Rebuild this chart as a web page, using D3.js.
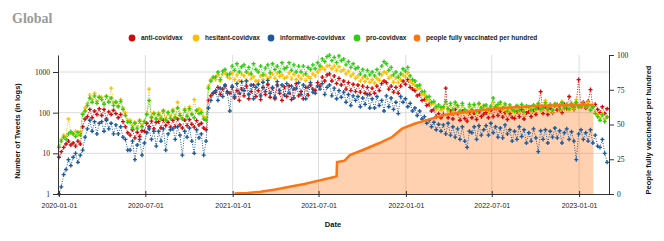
<html>
<script src='https://d3js.org/d3.v7.min.js'></script>

<head>
    <style>
        body { margin: 0; background: #fff; }
        svg { display: block; }
    </style>
</head>

<body>

<svg width=664 height=241></svg>

<script>
// tweets per day, one value every 5 days starting 2020-01-01
const startDate = new Date(2020, 0, 1);
const stepDays = 5;

const anti = [
    8, 11, 14, 17, 20, 16,
    18, 15, 20, 17, 45, 70,
    80, 120, 75, 110, 90, 125,
    85, 120, 70, 105, 90, 115,
    95, 75, 90, 60, 45, 32,
    28, 38, 24, 33, 26, 36,
    35, 55, 45, 62, 40, 58,
    60, 42, 65, 48, 58, 44,
    65, 45, 70, 50, 42, 66,
    48, 68, 52, 44, 64, 50,
    55, 42, 38, 200, 260, 300,
    320, 420, 280, 380, 450, 330,
    300, 420, 230, 350, 200, 380,
    260, 450, 220, 330, 480, 250,
    350, 210, 420, 280, 500, 240,
    400, 220, 480, 300, 200, 430,
    250, 460, 210, 380, 520, 260,
    330, 220, 420, 270, 480, 380,
    350, 550, 450, 750, 600, 850,
    900, 600, 800, 520, 700, 480,
    600, 380, 550, 350, 500, 330,
    480, 320, 450, 300, 420, 280,
    400, 300, 450, 350, 520, 600,
    550, 380, 450, 320, 420, 300,
    450, 600, 500, 650, 420, 380,
    350, 260, 280, 200, 210, 150,
    160, 110, 120, 80, 95, 75,
    90, 400, 75, 110, 70, 120,
    95, 65, 110, 72, 62, 100,
    75, 98, 68, 105, 80, 92,
    100, 75, 115, 80, 140, 85,
    110, 78, 100, 68, 95, 76,
    72, 105, 80, 120, 70, 98,
    105, 80, 115, 90, 130, 330,
    95, 140, 90, 130, 100, 150,
    115, 150, 100, 160, 125, 250,
    150, 120, 175, 650, 140, 180,
    130, 190, 370, 140, 160, 120,
    100, 140, 95, 125
];

const hesitant = [
    15, 22, 28, 26, 70, 32,
    30, 35, 28, 33, 95, 130,
    170, 270, 210, 300, 190, 250,
    240, 170, 260, 190, 400, 180,
    190, 150, 210, 130, 100, 65,
    65, 48, 58, 44, 66, 50,
    62, 95, 380, 80, 100, 72,
    100, 78, 115, 70, 105, 82,
    120, 80, 180, 95, 75, 125,
    85, 140, 95, 210, 110, 125,
    110, 80, 72, 450, 650, 700,
    650, 850, 600, 900, 950, 750,
    700, 950, 650, 850, 600, 900,
    800, 620, 900, 680, 780, 600,
    600, 800, 650, 850, 700, 750,
    900, 700, 950, 780, 850, 700,
    750, 950, 680, 880, 650, 800,
    680, 850, 620, 780, 700, 900,
    800, 1000, 1150, 1300, 1150, 1400,
    1450, 1200, 1400, 1100, 1350, 1050,
    1150, 900, 1050, 800, 900, 700,
    800, 600, 720, 580, 700, 560,
    650, 540, 700, 620, 850, 1000,
    950, 700, 800, 560, 720, 550,
    650, 850, 750, 950, 600, 520,
    480, 380, 400, 280, 280, 200,
    210, 160, 170, 120, 135, 115,
    125, 170, 110, 150, 105, 160,
    135, 100, 150, 105, 95, 140,
    110, 150, 100, 160, 120, 135,
    140, 110, 130, 180, 120, 145,
    160, 115, 150, 100, 140, 110,
    100, 135, 105, 145, 95, 130,
    130, 105, 140, 115, 160, 110,
    120, 200, 110, 150, 105, 160,
    150, 110, 190, 120, 155, 115,
    160, 125, 210, 130, 145, 170,
    140, 180, 120, 150, 105, 90,
    75, 95, 68, 80
];

const informative = [
    1, 1.5, 3, 4, 7, 5,
    8, 10, 6, 9, 12, 25,
    40, 65, 35, 60, 30, 55,
    60, 35, 65, 40, 55, 30,
    50, 30, 45, 25, 22, 12,
    12, 20, 7, 16, 22, 9,
    18, 32, 40, 22, 35, 15,
    35, 20, 40, 12, 30, 38,
    40, 22, 45, 28, 9, 35,
    25, 42, 20, 10, 38, 24,
    30, 9, 20, 130, 200, 300,
    350, 200, 400, 250, 480, 300,
    110, 450, 250, 520, 300, 580,
    350, 600, 280, 480, 220, 420,
    500, 260, 560, 330, 620, 300,
    420, 240, 580, 350, 480, 270,
    520, 300, 450, 230, 400, 550,
    280, 480, 220, 420, 550, 320,
    300, 450, 380, 520, 280, 420,
    480, 260, 400, 220, 350, 240,
    320, 180, 280, 150, 260, 200,
    250, 140, 230, 160, 280, 130,
    220, 130, 250, 150, 200, 110,
    260, 140, 230, 120, 180, 95,
    250, 180, 220, 140, 170, 110,
    130, 85, 110, 70, 80, 55,
    65, 45, 58, 38, 52, 35,
    50, 30, 55, 28, 45, 25,
    40, 22, 45, 20, 14, 35,
    32, 45, 22, 48, 28, 38,
    48, 28, 55, 32, 45, 25,
    42, 24, 50, 30, 38, 20,
    35, 22, 45, 26, 38, 18,
    32, 20, 40, 24, 11, 36,
    22, 38, 18, 35, 25, 42,
    24, 36, 18, 32, 40, 22,
    34, 20, 7, 30, 38, 22,
    32, 20, 38, 18, 28, 15,
    14, 22, 10, 6
];

const pro = [
    14, 20, 25, 22, 30, 34,
    30, 26, 33, 28, 90, 110,
    150, 230, 180, 260, 170, 240,
    210, 160, 250, 180, 230, 150,
    180, 140, 190, 120, 85, 58,
    58, 42, 55, 40, 62, 45,
    60, 90, 200, 75, 95, 70,
    90, 70, 110, 65, 100, 72,
    110, 75, 130, 85, 70, 115,
    80, 125, 90, 75, 115, 95,
    100, 70, 65, 400, 600, 750,
    750, 1000, 650, 1050, 1150, 850,
    900, 1400, 1100, 1600, 1000, 1350,
    1500, 1000, 1300, 900, 1600, 1150,
    1000, 1400, 850, 1250, 1500, 950,
    1600, 1150, 1400, 1000, 1700, 1200,
    1300, 1700, 1100, 1500, 1000, 1400,
    1000, 1400, 900, 1300, 1150, 1500,
    1200, 1700, 1400, 2100, 1800, 2400,
    2600, 1900, 2300, 1700, 2500, 1900,
    2100, 1500, 1800, 1300, 1600, 1200,
    1300, 900, 1150, 800, 1100, 850,
    1000, 800, 1150, 900, 1400, 1800,
    1600, 1100, 1300, 850, 1000, 750,
    900, 1200, 1050, 1300, 800, 650,
    600, 450, 480, 330, 330, 240,
    250, 180, 190, 140, 155, 135,
    140, 190, 125, 170, 120, 180,
    150, 110, 170, 120, 105, 160,
    120, 160, 110, 170, 130, 150,
    155, 120, 145, 230, 135, 160,
    180, 130, 165, 110, 155, 120,
    110, 150, 115, 160, 105, 145,
    140, 115, 155, 125, 170, 120,
    130, 175, 120, 160, 115, 165,
    160, 120, 175, 130, 160, 125,
    170, 135, 180, 140, 150, 165,
    145, 150, 115, 140, 95, 80,
    65, 88, 60, 78
];

// people fully vaccinated per hundred
const vaxDates = ["2021-01-05", "2021-02-01", "2021-03-01", "2021-04-01", "2021-05-01", "2021-06-01",
    "2021-07-01", "2021-08-01", "2021-08-08", "2021-08-09", "2021-08-25", "2021-09-05",
    "2021-10-01", "2021-11-05", "2021-12-03", "2021-12-24", "2022-01-19", "2022-02-12",
    "2022-03-25", "2022-05-21", "2022-07-31", "2022-10-10", "2022-12-21", "2023-01-31"];
const vaxValues = [0.3, 0.8, 1.7, 3.3, 5.2, 7.2,
    9.6, 12, 12.8, 23, 24, 28,
    31.5, 36.5, 41, 47, 50.5, 53,
    57, 59.7, 62, 63.5, 64, 64.2];

const seriesNames = ["anti-covidvax", "hesitant-covidvax", "informative-covidvax", "pro-covidvax"];
const seriesColors = ["#d20a0a", "#ffbf00", "#1c5a9b", "#33cc14"];
const vaxName = "people fully vaccinated per hundred";
const vaxColor = "#ff7410";

const leftTicks = [1, 10, 100, 1000];
const rightTicks = [0, 25, 50, 75, 100];
const dateTicks = ["2020-01-01", "2020-07-01", "2021-01-01", "2021-07-01", "2022-01-01", "2022-07-01", "2023-01-01"];

const marginLeft = 58;
const marginRight = 55;
const marginTop = 55;
const marginBottom = 47;
const w = 664;
const h = 241;

var parse = d3.timeParse("%Y-%m-%d");
var svg = d3.select("svg");

var xs = d3.scaleTime()
    .domain([new Date(2019, 11, 30), new Date(2023, 2, 5)])
    .range([marginLeft, w - marginRight]);

var ys = d3.scaleLog()
    .domain([1, 2620])
    .range([h - marginBottom, marginTop]);

var ys2 = d3.scaleLinear()
    .domain([0, 100])
    .range([h - marginBottom, marginTop]);

// title
svg.append("text")
    .attr("x", 12)
    .attr("y", 22.5)
    .style("font-family", "'Liberation Serif', serif")
    .style("font-weight", "bold")
    .style("font-size", "14px")
    .style("fill", "#9a9a9a")
    .text("Global");

// grid
svg.append("g")
    .selectAll("line")
    .data(leftTicks.slice(1))
    .enter()
    .append("line")
    .attr("x1", marginLeft).attr("x2", w - marginRight)
    .attr("y1", function(d) { return ys(d); })
    .attr("y2", function(d) { return ys(d); })
    .style("stroke", "#dcdcdc");

svg.append("g")
    .selectAll("line")
    .data(dateTicks.slice(1))
    .enter()
    .append("line")
    .attr("x1", function(d) { return xs(parse(d)); })
    .attr("x2", function(d) { return xs(parse(d)); })
    .attr("y1", marginTop).attr("y2", h - marginBottom)
    .style("stroke", "#dcdcdc");

// vaccination area (under the tweets)
var vax = vaxDates.map(function(d, i) { return {date: parse(d), value: vaxValues[i]}; });

svg.append("path")
    .datum(vax)
    .attr("d", d3.area()
        .x(function(d) { return xs(d.date); })
        .y0(ys2(0))
        .y1(function(d) { return ys2(d.value); }))
    .style("fill", vaxColor)
    .style("opacity", 0.33);

// tweets: dotted line + small crosses
var allSeries = [anti, hesitant, informative, pro];
var cross = d3.symbol().type(d3.symbolCross).size(9);
var dateOf = function(i) { return d3.timeDay.offset(startDate, i * stepDays); };

var tweetLine = d3.line()
    .x(function(d, i) { return xs(dateOf(i)); })
    .y(function(d) { return ys(d); });

allSeries.forEach(function(values, s) {
    var g = svg.append("g");

    g.append("path")
        .datum(values)
        .attr("d", tweetLine)
        .style("fill", "none")
        .style("stroke", seriesColors[s])
        .style("stroke-width", 1)
        .style("stroke-dasharray", "1,1.5");

    g.selectAll(".pt")
        .data(values)
        .enter()
        .append("path")
        .attr("d", cross)
        .attr("transform", function(d, i) {
            return "translate(" + xs(dateOf(i)) + "," + ys(d) + ")";
        })
        .style("fill", seriesColors[s]);
});

svg.append("path")
    .datum(vax)
    .attr("d", d3.line()
        .x(function(d) { return xs(d.date); })
        .y(function(d) { return ys2(d.value); }))
    .style("fill", "none")
    .style("stroke", vaxColor)
    .style("stroke-width", 2.5);

// axes
var xAxis = svg.append("g")
    .attr("transform", "translate(0," + (h - marginBottom) + ")")
    .call(d3.axisBottom(xs)
        .tickValues(dateTicks.map(parse))
        .tickFormat(d3.timeFormat("%Y-%m-%d"))
        .tickSize(3)
        .tickSizeOuter(0));
xAxis.selectAll(".tick line").attr("y1", -3);
xAxis.selectAll("text")
    .attr("dy", "1.1em")
    .style("font-family", "'Liberation Sans', Arial, sans-serif")
    .style("font-size", "7px")
    .style("fill", "#222");

var yAxis = svg.append("g")
    .attr("transform", "translate(" + marginLeft + ",0)")
    .call(d3.axisLeft(ys)
        .tickValues(leftTicks)
        .tickFormat(d3.format("d"))
        .tickSize(5)
        .tickPadding(3)
        .tickSizeOuter(0));
yAxis.selectAll("text")
    .style("font-family", "'Liberation Serif', serif")
    .style("font-size", "7.5px")
    .style("fill", "#222");

var yAxis2 = svg.append("g")
    .attr("transform", "translate(" + (w - marginRight) + ",0)")
    .call(d3.axisRight(ys2)
        .tickValues(rightTicks)
        .tickSize(5)
        .tickPadding(3)
        .tickSizeOuter(0));
yAxis2.selectAll("text")
    .style("font-family", "'Liberation Serif', serif")
    .style("font-size", "7.5px")
    .style("fill", "#222");

svg.selectAll(".domain, .tick line").style("stroke", "#333");

// axis titles
svg.append("text")
    .attr("transform", "translate(20,131) rotate(-90)")
    .attr("text-anchor", "middle")
    .style("font-family", "'Liberation Sans', Arial, sans-serif")
    .style("font-weight", "bold")
    .style("font-size", "7.5px")
    .style("fill", "#111")
    .text("Number of Tweets (in logs)");

svg.append("text")
    .attr("transform", "translate(651,130) rotate(-90)")
    .attr("text-anchor", "middle")
    .style("font-family", "'Liberation Sans', Arial, sans-serif")
    .style("font-weight", "bold")
    .style("font-size", "7.5px")
    .style("fill", "#111")
    .text("People fully vaccinated per hundred");

svg.append("text")
    .attr("x", 333)
    .attr("y", 227)
    .attr("text-anchor", "middle")
    .style("font-family", "'Liberation Sans', Arial, sans-serif")
    .style("font-weight", "bold")
    .style("font-size", "7.5px")
    .style("fill", "#111")
    .text("Date");

// legend
var legendItems = seriesNames.concat([vaxName]);
var legendColors = seriesColors.concat([vaxColor]);
var legendX = [132, 196, 271, 357, 417];

var legend = svg.append("g")
    .selectAll("g")
    .data(legendItems)
    .enter()
    .append("g")
    .attr("transform", function(d, i) { return "translate(" + legendX[i] + ",38)"; });

legend.append("circle")
    .attr("r", 3.4)
    .style("fill", function(d, i) { return legendColors[i]; });

legend.append("text")
    .attr("x", 9)
    .attr("y", 2.4)
    .style("font-family", "'Liberation Sans', Arial, sans-serif")
    .style("font-weight", "bold")
    .style("font-size", "6.5px")
    .style("fill", "#222")
    .text(function(d) { return d; });
</script>
</body>
</html>
